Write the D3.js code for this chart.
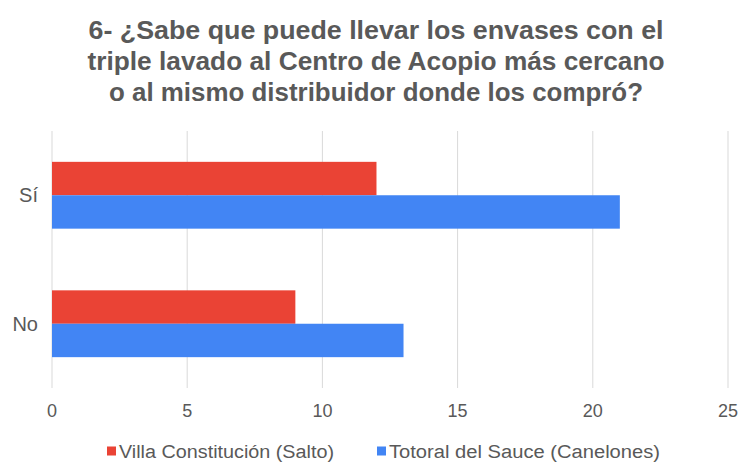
<!DOCTYPE html>
<html>
<head>
<meta charset="utf-8">
<script src="https://cdn.jsdelivr.net/npm/d3@7"></script>
<style>
  html, body { margin: 0; background: #fff; }
  text { font-family: "Liberation Sans", Arial, sans-serif; }
</style>
</head>
<body>
<script>
var titleLines = [
  '6- ¿Sabe que puede llevar los envases con el',
  'triple lavado al Centro de Acopio más cercano',
  'o al mismo distribuidor donde los compró?'
]
var categories = ['Sí', 'No']
var seriesNames = ['Villa Constitución (Salto)', 'Totoral del Sauce (Canelones)']
var villa = [12, 9]
var totoral = [21, 13]
var xTicks = [0, 5, 10, 15, 20, 25]
var colors = ['#EA4335', '#4285F4']

var width = 742
var height = 462
var margin = { top: 131, right: 14, bottom: 74, left: 52 }

var svg = d3.select('body')
  .append('svg')
  .attr('width', width)
  .attr('height', height)

var x = d3.scaleLinear()
  .domain([0, 25])
  .range([margin.left, width - margin.right])

var y = d3.scaleBand()
  .domain(categories)
  .range([margin.top, height - margin.bottom])
  .paddingInner(0.48)
  .paddingOuter(0.24)

var ySub = d3.scaleBand()
  .domain(seriesNames)
  .range([0, y.bandwidth()])

// title
var titleWidths = [575, 577, 534]
svg.append('g')
  .selectAll('text')
  .data(titleLines)
  .join('text')
  .attr('x', 376)
  .attr('y', (d, i) => 39 + i * 31)
  .attr('text-anchor', 'middle')
  .attr('textLength', (d, i) => titleWidths[i])
  .attr('lengthAdjust', 'spacingAndGlyphs')
  .style('font-size', '26px')
  .style('font-weight', 'bold')
  .style('fill', '#595959')
  .text(d => d)

// gridlines
svg.append('g')
  .selectAll('line')
  .data(xTicks)
  .join('line')
  .attr('x1', d => x(d))
  .attr('x2', d => x(d))
  .attr('y1', margin.top)
  .attr('y2', height - margin.bottom)
  .style('stroke', '#d9d9d9')
  .style('stroke-width', 1)

// x tick labels
svg.append('g')
  .selectAll('text')
  .data(xTicks)
  .join('text')
  .attr('x', d => x(d))
  .attr('y', 417)
  .attr('text-anchor', 'middle')
  .style('font-size', '18px')
  .style('fill', '#595959')
  .text(d => d)

// category labels
svg.append('g')
  .selectAll('text')
  .data(categories)
  .join('text')
  .attr('x', 38)
  .attr('y', d => y(d) + y.bandwidth() / 2 + 7)
  .attr('text-anchor', 'end')
  .style('font-size', '20px')
  .style('fill', '#595959')
  .text(d => d)

// bars
var rows = categories.map((c, i) => ({ cat: c, values: [villa[i], totoral[i]] }))
var groups = svg.append('g')
  .selectAll('g')
  .data(rows)
  .join('g')
  .attr('transform', d => 'translate(0,' + y(d.cat) + ')')

groups.selectAll('rect')
  .data(d => d.values.map((v, j) => ({ name: seriesNames[j], value: v, color: colors[j] })))
  .join('rect')
  .attr('x', x(0))
  .attr('y', d => ySub(d.name))
  .attr('width', d => x(d.value) - x(0))
  .attr('height', ySub.bandwidth())
  .style('fill', d => d.color)

// legend
var legendX = [107, 377]
var legendWidths = [215, 271]
var legend = svg.append('g')
  .selectAll('g')
  .data(seriesNames)
  .join('g')
  .attr('transform', (d, i) => 'translate(' + legendX[i] + ',451)')

legend.append('rect')
  .attr('x', 0)
  .attr('y', -4.5)
  .attr('width', 9)
  .attr('height', 9)
  .style('fill', (d, i) => colors[i])

legend.append('text')
  .attr('x', 12)
  .attr('y', 6.5)
  .attr('textLength', (d, i) => legendWidths[i])
  .attr('lengthAdjust', 'spacingAndGlyphs')
  .style('font-size', '18px')
  .style('fill', '#595959')
  .text(d => d)
</script>
</body>
</html>
